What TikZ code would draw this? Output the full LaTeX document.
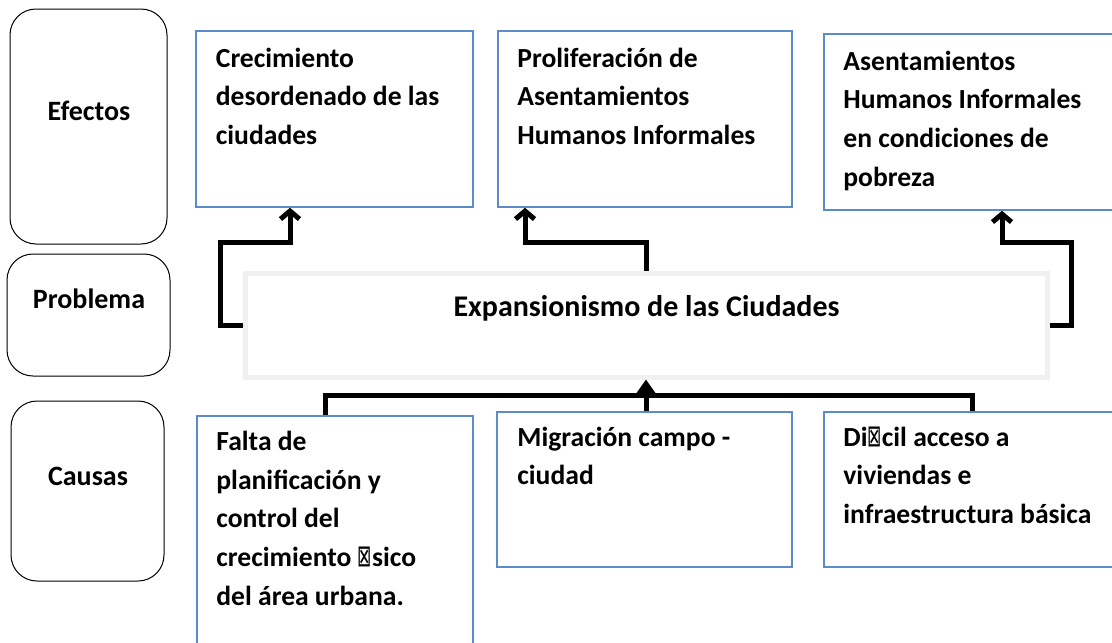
\documentclass[tikz,border=0pt]{standalone}
\usepackage{fontspec}
\setmainfont{Carlito}
\newfontfamily\dejavu{DejaVu Sans}
\usetikzlibrary{arrows.meta,calc}
\definecolor{boxblue}{RGB}{91,139,203}
\definecolor{probgray}{RGB}{240,240,240}
\newcommand\lbltext[1]{\parbox[t]{330pt}{\raggedright\fontsize{27.6}{38.6}\selectfont\bfseries #1}}
\newcommand\notdefglyph{{\dejavu\mdseries\scalebox{0.62}[1.1]{⊠}}}
\tikzset{
  sidebox/.style={draw=black, line width=1pt, rounded corners=26pt, inner sep=0pt},
  bluebox/.style={draw=boxblue, line width=1.6pt, inner sep=0pt},
  probbox/.style={draw=probgray, line width=5pt, inner sep=0pt},
  sidelabel/.style={anchor=base, inner sep=0pt, font=\fontsize{28}{32}\selectfont\bfseries},
  problabel/.style={anchor=base, inner sep=0pt, font=\fontsize{30}{34}\selectfont\bfseries},
  boxtext/.style={anchor=base west, inner sep=0pt},
  conn/.style={line width=5pt, line join=miter, draw=black},
  barb/.style={-{Straight Barb[length=8pt,width=19pt]}},
  filltip/.style={-{Triangle[length=15pt,width=20pt]}}
}
\begin{document}
\begin{tikzpicture}[x=1pt,y=-1pt]
\useasboundingbox (0,0) rectangle (1112,643);
\clip (0,0) rectangle (1112,643);
% side boxes
\node[sidebox, minimum width=157pt, minimum height=235pt] (eff) at (88.5,126.5) {};
\node[sidebox, minimum width=163pt, minimum height=122pt] (prb) at (88.5,315) {};
\node[sidebox, minimum width=153pt, minimum height=180pt] (cau) at (87.5,491) {};
\node[sidelabel] (efflbl) at (89,120.5) {Efectos};
\node[sidelabel] (prblbl) at (89,308) {Problema};
\node[sidelabel] (caulbl) at (88,485) {Causas};
% effect boxes
\node[bluebox, minimum width=277pt, minimum height=176pt] (e1) at (334.5,119) {};
\node[bluebox, minimum width=294pt, minimum height=176pt] (e2) at (645,119) {};
\node[bluebox, minimum width=306pt, minimum height=176pt] (e3) at (977,122) {};
\node[boxtext] (e1t) at ($(e1.north west)+(20.5,37)$) {\lbltext{Crecimiento\\desordenado de las\\ciudades}};
\node[boxtext] (e2t) at ($(e2.north west)+(20,37)$) {\lbltext{Proliferación de\\Asentamientos\\Humanos Informales}};
\node[boxtext] (e3t) at ($(e3.north west)+(20,37)$) {\lbltext{Asentamientos\\Humanos Informales\\en condiciones de\\pobreza}};
% problem box
\node[probbox, minimum width=802pt, minimum height=104pt] (prob) at (646,325) {};
\node[problabel] (probt) at (646.5,316) {Expansionismo de las Ciudades};
% cause boxes
\node[bluebox, minimum width=276pt, minimum height=244pt] (c1) at (335,538) {};
\node[bluebox, minimum width=295pt, minimum height=155pt] (c2) at (644.5,489.5) {};
\node[bluebox, minimum width=306pt, minimum height=155pt] (c3) at (977,489.5) {};
\node[boxtext] (c1t) at ($(c1.north west)+(20,35.5)$) {\lbltext{Falta de\\planificación y\\control del\\crecimiento \notdefglyph sico\\del área urbana.}};
\node[boxtext] (c2t) at ($(c2.north west)+(21,35)$) {\lbltext{Migración campo -\\ciudad}};
\node[boxtext] (c3t) at ($(c3.north west)+(20,35)$) {\lbltext{Di\notdefglyph cil acceso a\\viviendas e\\infraestructura básica}};
% connectors to effects
\draw[conn, barb] (prob.west) -- (220.5,325) -- (220.5,242) -- (290,242) -- (290,0 |- e1.south);
\draw[conn, barb] (prob.north) -- (646,242) -- (525,242) -- (525,0 |- e2.south);
\draw[conn, barb] (prob.east) -- (1071,325) -- (1071,242.5) -- (1002,242.5) -- (1002,0 |- e3.south);
% connectors from causes
\draw[conn] (325,0 |- c1.north) -- (325,395) -- (972,395) -- (972,0 |- c3.north);
\draw[conn, filltip] (646,0 |- c2.north) -- (prob.south);
\end{tikzpicture}
\end{document}
